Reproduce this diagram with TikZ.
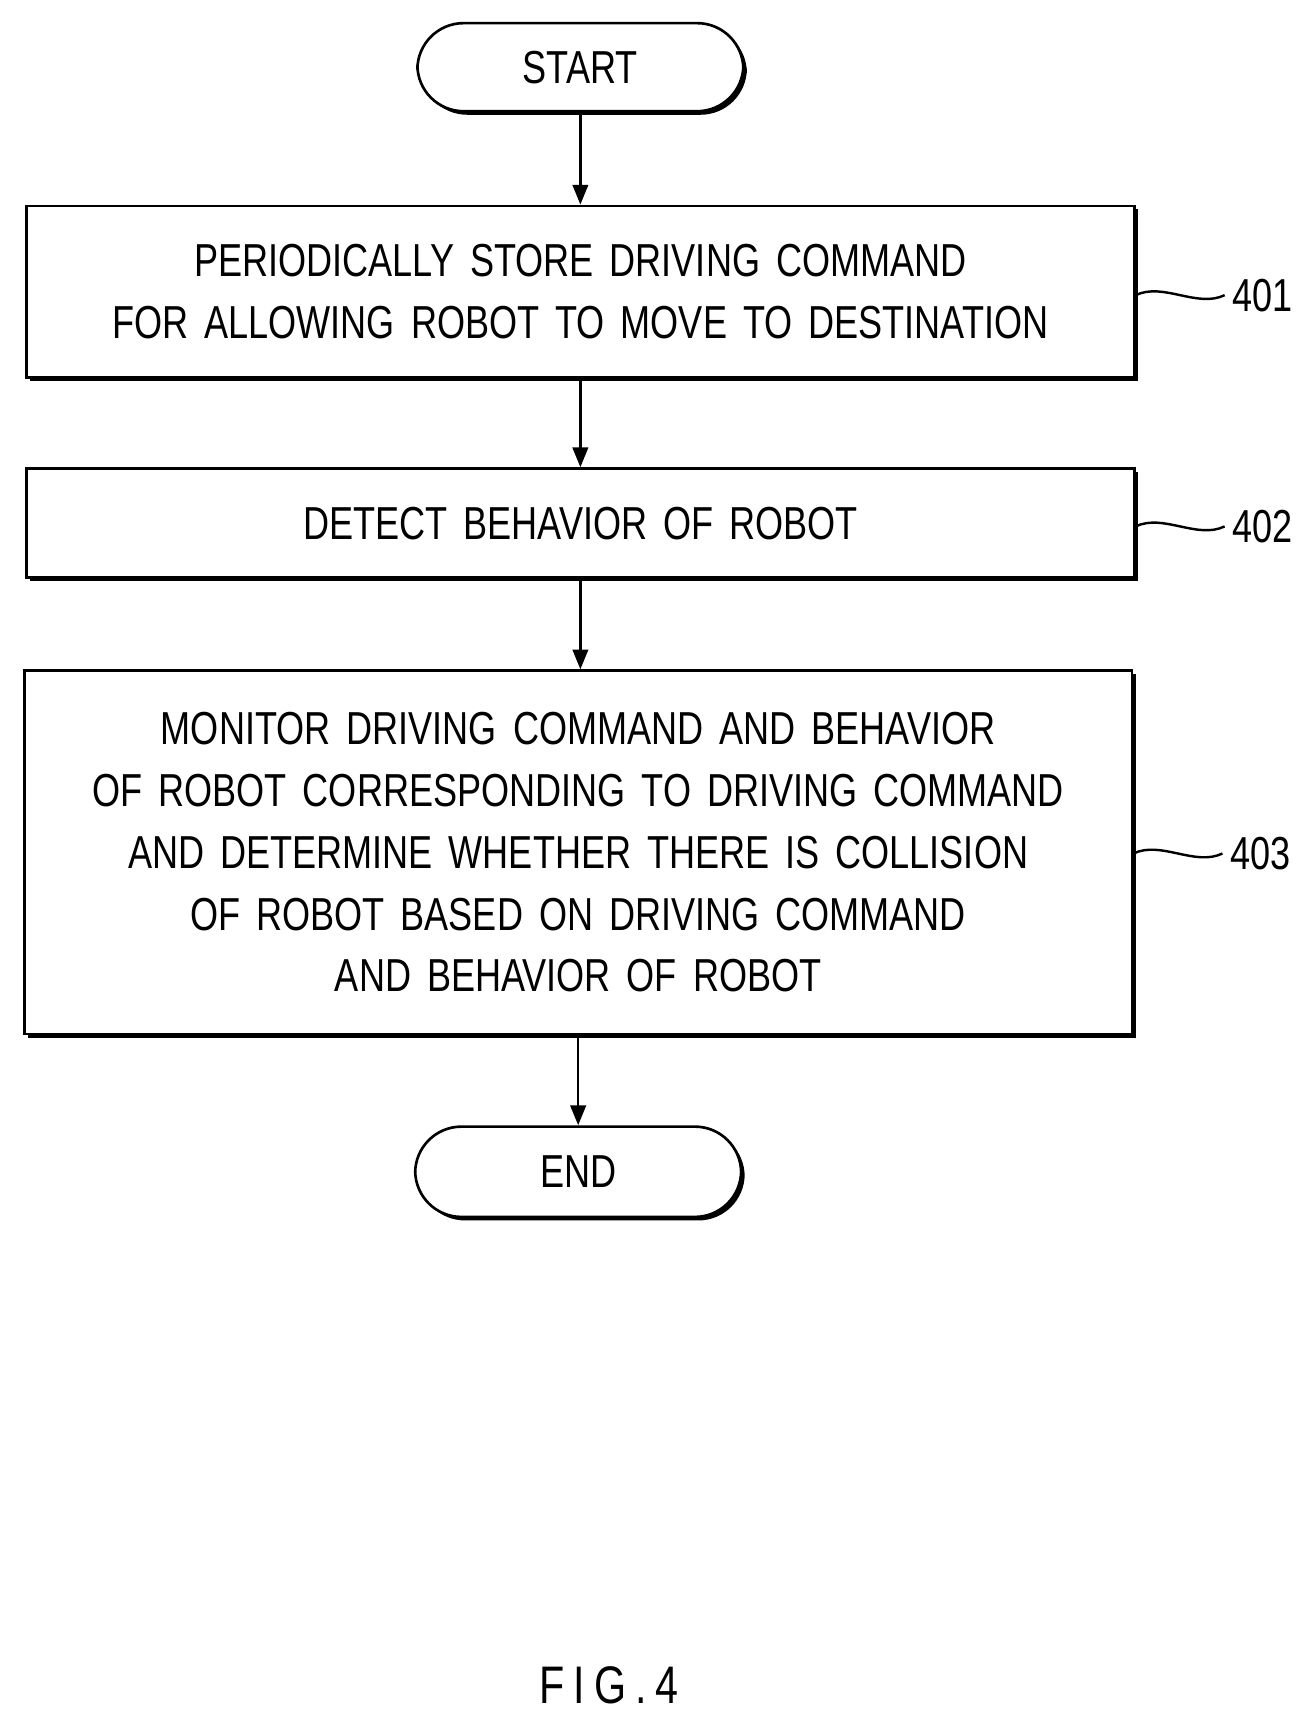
\documentclass[tikz,border=0pt]{standalone}
\usepackage{fontspec}
\setmainfont[FakeStretch=0.78,WordSpace=1.6]{Liberation Sans}
\usetikzlibrary{shadows,arrows.meta}
\begin{document}
\begin{tikzpicture}[x=0.5pt,y=-0.5pt,
  sh/.style={drop shadow={shadow xshift=1.6pt,shadow yshift=-1.6pt,fill=black,opacity=1}},
  box/.style={draw,line width=1.2pt,fill=white,sh,inner sep=0pt,font=\fontsize{21}{28}\selectfont,align=center},
  term/.style={box,rounded corners=21pt},
  arr/.style={-{Triangle[length=9pt,width=7pt]},line width=1.2pt},
  lab/.style={font=\fontsize{21}{25}\selectfont}]
\useasboundingbox (0,0) rectangle (1190,1560);
\node[term,minimum width=148pt,minimum height=40pt] (start) at (527,61) {START};
\node[box,minimum width=503pt,minimum height=78pt] (b1) at (527,265) {PERIODICALLY STORE DRIVING COMMAND\\FOR ALLOWING ROBOT TO MOVE TO DESTINATION};
\node[box,minimum width=503pt,minimum height=49.5pt] (b2) at (527,475) {DETECT BEHAVIOR OF ROBOT};
\node[box,minimum width=503pt,minimum height=165pt] (b3) at (525,774) {MONITOR DRIVING COMMAND AND BEHAVIOR\\OF ROBOT CORRESPONDING TO DRIVING COMMAND\\AND DETERMINE WHETHER THERE IS COLLISION\\OF ROBOT BASED ON DRIVING COMMAND\\AND BEHAVIOR OF ROBOT};
\node[term,minimum width=148pt,minimum height=41pt] (end) at (525,1064) {END};
\draw[arr] (start.south) -- (b1.north -| start.south);
\draw[arr] (b1.south) -- (b2.north);
\draw[arr] (b2.south) -- (b3.north -| b2.south);
\draw[arr] (b3.south -| end.north) -- (end.north);
\node[lab,anchor=west] (l1) at (1112,268) {401};
\node[lab,anchor=west] (l2) at (1112,478) {402};
\node[lab,anchor=west] (l3) at (1110,775) {403};
\foreach \b/\l in {b1/l1,b2/l2,b3/l3}{
  \draw[line width=1.1pt] (\b.east |- \l.west) .. controls +(25,-12) and +(-25,12) .. (\l.west);}
\node[font=\fontsize{24}{28}\selectfont] (fig) at (553,1530) {F\,I\,G\,.\,4};
\end{tikzpicture}
\end{document}
